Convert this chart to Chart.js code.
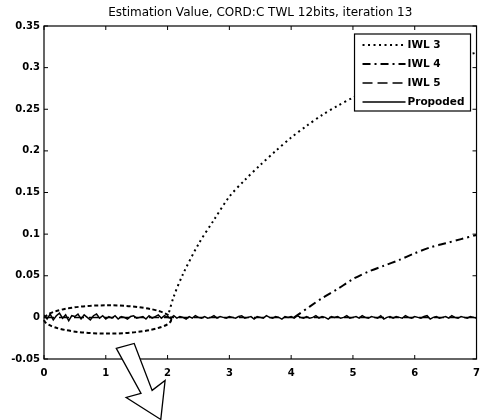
<!DOCTYPE html>
<html><head><meta charset="utf-8">
<script src="https://cdn.jsdelivr.net/npm/chart.js@4"></script>
<style>html,body{margin:0;padding:0;background:#fff}#wrap{width:488px;height:420px}</style>
</head><body><div id="wrap"><canvas id="c" width="488" height="420"></canvas></div>
<script>
const titleText = "Estimation Value, CORD:C TWL 12bits, iteration 13";
const xTicks = [0,1,2,3,4,5,6,7];
const yTicks = [-0.05,0,0.05,0.1,0.15,0.2,0.25,0.3,0.35];
const yTickLabels = ["-0.05","0","0.05","0.1","0.15","0.2","0.25","0.3","0.35"];
const seriesNames = ["IWL 3","IWL 4","IWL 5","Propoded"];

const iwl3X = [2.0,2.1,2.25,2.5,2.75,3.0,3.25,3.5,3.75,4.0,4.25,4.5,4.75,5.0,5.5,6.0,6.5,7.0];
const iwl3Y = [0.0,0.025,0.052,0.088,0.117,0.145,0.165,0.183,0.200,0.216,0.230,0.243,0.254,0.264,0.282,0.297,0.309,0.318];

const iwl4X = [4.05,4.3,4.5,4.75,5.0,5.25,5.5,5.75,6.0,6.25,6.5,6.75,7.0];
const iwl4Y = [0.0,0.013,0.023,0.034,0.046,0.055,0.062,0.069,0.077,0.084,0.089,0.094,0.099];

const iwl5X = [0,7];
const iwl5Y = [0,0];

const propStep = 0.05;
const propY = [
0.003,-0.002,0.004,-0.003,0.002,0.005,-0.001,0.003,-0.004,0.002,0.001,0.004,-0.002,0.003,0.000,-0.003,0.002,0.004,-0.001,0.002,-0.002,
0.001,-0.001,0.002,-0.002,0.001,0.000,-0.002,0.001,0.002,-0.001,0.000,0.001,-0.002,0.002,-0.001,0.001,0.003,-0.001,0.002,0.000,
-0.001,0.002,-0.001,0.001,0.000,-0.002,0.001,-0.001,0.002,0.000,-0.001,0.001,-0.001,0.000,0.002,-0.001,0.001,0.000,-0.001,0.001,
0.000,-0.001,0.001,0.002,-0.001,0.000,0.001,-0.002,0.001,0.000,-0.001,0.002,0.000,-0.001,0.001,0.000,-0.002,0.001,0.000,0.001,
-0.001,0.002,0.000,-0.001,0.001,-0.001,0.000,0.002,-0.001,0.001,0.000,-0.002,0.001,0.000,0.001,-0.001,0.000,0.002,-0.001,0.000,
0.001,-0.001,0.002,0.000,-0.001,0.001,0.000,-0.001,0.002,-0.002,0.000,0.001,-0.001,0.001,0.000,-0.001,0.002,0.000,-0.001,0.001,
0.000,-0.001,0.001,0.002,-0.002,0.000,0.001,-0.001,0.000,0.001,-0.001,0.002,0.000,-0.001,0.001,0.000,-0.001,0.001,0.000,-0.001
];

// annotation (ellipse + arrow) in data units
const ellipseCenter = [1.03, -0.0025];
const ellipseRadii = [1.03, 0.017];
const arrowX = [1.17,1.46,1.75,1.96,1.89,1.33,1.57];
const arrowY = [-0.0373,-0.0313,-0.0877,-0.0757,-0.1226,-0.0962,-0.0913];

const pts = (xs, ys) => xs.map((x,i)=>({x:x,y:ys[i]}));
const propData = propY.map((v,i)=>({x: +(i*propStep).toFixed(2), y: v}));

const FONT = '"DejaVu Sans", Verdana, sans-serif';

const styles = [
  {borderDash:[2,3.5], borderWidth:2},
  {borderDash:[8,4,2,4], borderWidth:2},
  {borderDash:[10,5], borderWidth:1.5},
  {borderDash:[], borderWidth:1.5}
];

const boxPlugin = {
  id:'box',
  afterDatasetsDraw(chart){
    const {ctx, chartArea:a, scales:{x,y}} = chart;
    ctx.save();
    ctx.strokeStyle='#000'; ctx.lineWidth=1.2; ctx.setLineDash([]);
    ctx.strokeRect(a.left, a.top, a.right-a.left, a.bottom-a.top);
    ctx.lineWidth=1;
    const tl=4;
    xTicks.forEach(v=>{const px=x.getPixelForValue(v);
      ctx.beginPath();ctx.moveTo(px,a.bottom);ctx.lineTo(px,a.bottom-tl);
      ctx.moveTo(px,a.top);ctx.lineTo(px,a.top+tl);ctx.stroke();});
    yTicks.forEach(v=>{const py=y.getPixelForValue(v);
      ctx.beginPath();ctx.moveTo(a.left,py);ctx.lineTo(a.left+tl,py);
      ctx.moveTo(a.right,py);ctx.lineTo(a.right-tl,py);ctx.stroke();});
    const cx=x.getPixelForValue(ellipseCenter[0]), cy=y.getPixelForValue(ellipseCenter[1]);
    const rx=Math.abs(x.getPixelForValue(ellipseCenter[0]+ellipseRadii[0])-cx);
    const ry=Math.abs(y.getPixelForValue(ellipseCenter[1]+ellipseRadii[1])-cy);
    ctx.lineWidth=2; ctx.setLineDash([4,2.5]);
    ctx.beginPath(); ctx.ellipse(cx,cy,rx,ry,0,0,Math.PI*2); ctx.stroke();
    ctx.setLineDash([]); ctx.lineWidth=1.3; ctx.fillStyle='#fff';
    ctx.beginPath();
    arrowX.forEach((v,i)=>{const px=x.getPixelForValue(v),py=y.getPixelForValue(arrowY[i]);
      if(i===0)ctx.moveTo(px,py);else ctx.lineTo(px,py);});
    ctx.closePath(); ctx.fill(); ctx.stroke();
    const lx=a.right-122, ly=a.top+8, lw=116, lh=77;
    ctx.fillStyle='#fff'; ctx.fillRect(lx,ly,lw,lh);
    ctx.lineWidth=1.2; ctx.strokeRect(lx,ly,lw,lh);
    ctx.font='bold 10.5px ' + FONT;
    ctx.textBaseline='middle'; ctx.fillStyle='#000';
    seriesNames.forEach((n,i)=>{
      const yy=ly+11+i*19;
      ctx.setLineDash(styles[i].borderDash); ctx.lineWidth=styles[i].borderWidth;
      ctx.beginPath(); ctx.moveTo(lx+8,yy); ctx.lineTo(lx+51,yy); ctx.stroke();
      ctx.setLineDash([]);
      ctx.fillText(n, lx+53, yy);
    });
    ctx.restore();
  }
};

new Chart(document.getElementById('c'), {
  type:'line',
  data:{datasets:[
    {label:seriesNames[0], data:pts(iwl3X,iwl3Y), borderColor:'#000', ...styles[0], pointRadius:0, tension:0.3, order:1},
    {label:seriesNames[1], data:pts(iwl4X,iwl4Y), borderColor:'#000', ...styles[1], pointRadius:0, tension:0.3, order:2},
    {label:seriesNames[2], data:pts(iwl5X,iwl5Y), borderColor:'#000', ...styles[2], pointRadius:0, order:4},
    {label:seriesNames[3], data:propData, borderColor:'#000', ...styles[3], pointRadius:0, order:3}
  ]},
  options:{
    responsive:false, animation:false, devicePixelRatio:1,
    layout:{padding:{right:8,left:0,top:0,bottom:0}},
    plugins:{
      legend:{display:false}, tooltip:{enabled:false},
      title:{display:true, fullSize:false, text:titleText, color:'#000',
        font:{family:FONT, size:12, weight:'normal', lineHeight:1.1}, padding:{top:6,bottom:6.8}}
    },
    scales:{
      x:{type:'linear', min:0, max:7,
        afterBuildTicks(s){s.ticks=xTicks.map(v=>({value:v}));},
        afterFit(s){s.height=61;},
        grid:{display:false, drawTicks:false}, border:{display:false},
        ticks:{color:'#000', padding:8, maxRotation:0, font:{family:FONT, size:10, weight:'bold'}}
      },
      y:{type:'linear', min:-0.05, max:0.35,
        afterBuildTicks(s){s.ticks=yTicks.map(v=>({value:v}));},
        afterFit(s){s.width=44;},
        grid:{display:false, drawTicks:false}, border:{display:false},
        ticks:{color:'#000', padding:4, callback:(v,i)=>yTickLabels[i],
          font:{family:FONT, size:10, weight:'bold'}}
      }
    }
  },
  plugins:[boxPlugin]
});
</script></body></html>
